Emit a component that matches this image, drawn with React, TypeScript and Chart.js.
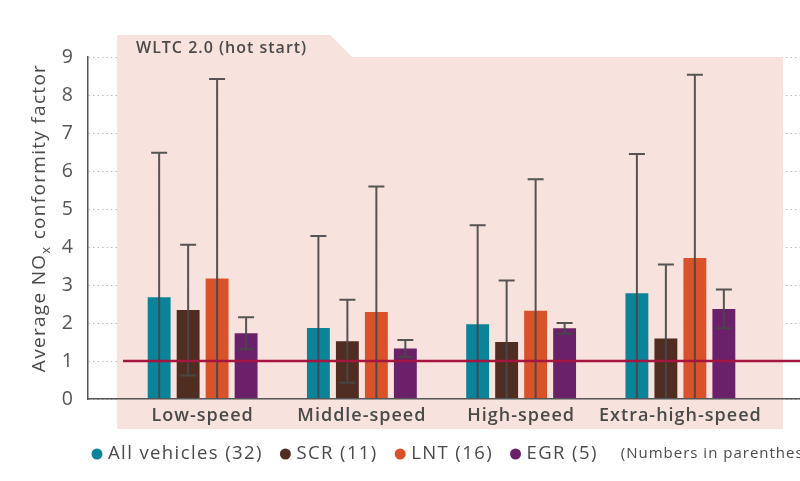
import React, { useEffect, useRef } from 'react';
import { Chart, registerables } from 'chart.js';

Chart.register(...registerables);

// ---------- data ----------
const categories = ['Low-speed', 'Middle-speed', 'High-speed', 'Extra-high-speed'];
const seriesNames = ['All vehicles (32)', 'SCR (11)', 'LNT (16)', 'EGR (5)'];
const seriesColors = ['#0b8399', '#4f2d21', '#d9522a', '#6a2169'];

const allVehicles = [2.68, 1.87, 1.97, 2.78];
const scr = [2.34, 1.52, 1.5, 1.59];
const lnt = [3.17, 2.29, 2.32, 3.71];
const egr = [1.73, 1.33, 1.86, 2.37];

const allVehiclesErr = [3.8, 2.42, 2.6, 3.67];
const scrErr = [1.72, 1.09, 1.62, 1.95];
const lntErr = [5.25, 3.3, 3.46, 4.82];
const egrErr = [0.42, 0.22, 0.14, 0.51];

const yTicks = [0, 1, 2, 3, 4, 5, 6, 7, 8, 9];
const referenceValue = 1;
const panelTitle = 'WLTC 2.0 (hot start)';
const yTitleMain = 'Average NO';
const yTitleSub = 'x';
const yTitleRest = ' conformity factor';
const noteText = '(Numbers in parentheses indicate number of vehicles tested)';

const seriesValues = [allVehicles, scr, lnt, egr];
const seriesErrors = [allVehiclesErr, scrErr, lntErr, egrErr];

const FONT = "'Open Sans', 'Noto Sans', sans-serif";
const TEXT = '#4a4a4a';

export default function App() {
  const ref = useRef<HTMLCanvasElement | null>(null);

  useEffect(() => {
    const canvas = ref.current;
    if (!canvas) return;

    const shiftX = {
      id: 'shiftX',
      afterLayout(chart: any) {
        const xs: any = chart.scales.x;
        const W = xs.right - xs.left;
        const inL = 35;
        const inR = 40;
        const n = categories.length;
        const r = (n * W) / (W - inL - inR);
        xs._valueRange = r;
        xs._startValue = -0.5 - (inL * r) / W;
      },
      beforeDraw(chart: any) {
        (chart.ctx as any).letterSpacing = '1px';
      },
    };

    const panel = {
      id: 'panel',
      beforeDatasetsDraw(chart: any) {
        const ctx = chart.ctx;
        ctx.save();
        ctx.fillStyle = 'rgba(246,223,218,0.92)';
        ctx.beginPath();
        ctx.moveTo(117, 35);
        ctx.lineTo(330, 35);
        ctx.lineTo(352, 57);
        ctx.lineTo(783, 57);
        ctx.lineTo(783, 429);
        ctx.lineTo(117, 429);
        ctx.closePath();
        ctx.fill();
        ctx.fillStyle = TEXT;
        ctx.font = `600 16px ${FONT}`;
        (ctx as any).letterSpacing = '1px';
        ctx.textBaseline = 'alphabetic';
        ctx.textAlign = 'left';
        ctx.fillText(panelTitle, 136, 52.5);
        ctx.restore();
      },
      afterDatasetsDraw(chart: any) {
        const ctx = chart.ctx;
        const ys = chart.scales.y;
        const xs = chart.scales.x;
        ctx.save();
        ctx.strokeStyle = 'rgba(72,72,72,0.92)';
        ctx.lineWidth = 2;
        seriesErrors.forEach((errs, di) => {
          const meta = chart.getDatasetMeta(di);
          meta.data.forEach((bar: any, i: number) => {
            const v = seriesValues[di][i];
            const e = errs[i];
            const hi = v + e;
            const lo = v - e;
            const x = bar.x;
            const yHi = ys.getPixelForValue(hi);
            const yLo = ys.getPixelForValue(Math.max(lo, 0));
            ctx.beginPath();
            ctx.moveTo(x, yHi);
            ctx.lineTo(x, yLo);
            ctx.moveTo(x - 8, yHi);
            ctx.lineTo(x + 8, yHi);
            if (lo > 0) {
              ctx.moveTo(x - 8, yLo);
              ctx.lineTo(x + 8, yLo);
            }
            ctx.stroke();
          });
        });
        const yr = ys.getPixelForValue(referenceValue);
        ctx.strokeStyle = '#a5153f';
        ctx.lineWidth = 2.5;
        ctx.beginPath();
        ctx.moveTo(xs.getPixelForValue(-0.5), yr);
        ctx.lineTo(chart.chartArea.right, yr);
        ctx.stroke();
        ctx.restore();
      },
      afterDraw(chart: any) {
        const ctx = chart.ctx;
        ctx.save();
        (ctx as any).letterSpacing = '1.3px';
        // y axis title
        ctx.fillStyle = TEXT;
        ctx.textBaseline = 'alphabetic';
        ctx.textAlign = 'left';
        const mainFont = `400 19px ${FONT}`;
        const subFont = `400 13px ${FONT}`;
        ctx.font = mainFont;
        const w1 = ctx.measureText(yTitleMain).width;
        const w3 = ctx.measureText(yTitleRest).width;
        ctx.font = subFont;
        const w2 = ctx.measureText(yTitleSub).width;
        const total = w1 + w2 + w3;
        ctx.translate(45, 218);
        ctx.rotate(-Math.PI / 2);
        const x0 = -total / 2;
        ctx.font = mainFont;
        ctx.fillText(yTitleMain, x0, 0);
        ctx.font = subFont;
        ctx.fillText(yTitleSub, x0 + w1, 5);
        ctx.font = mainFont;
        ctx.fillText(yTitleRest, x0 + w1 + w2, 0);
        ctx.restore();

        // legend
        ctx.save();
        (ctx as any).letterSpacing = '1.4px';
        ctx.textBaseline = 'middle';
        ctx.textAlign = 'left';
        ctx.font = `400 18.5px ${FONT}`;
        const ly = 454;
        let lx = 91.5;
        seriesNames.forEach((name, i) => {
          ctx.fillStyle = seriesColors[i];
          ctx.beginPath();
          ctx.arc(lx + 5.5, ly, 5.5, 0, Math.PI * 2);
          ctx.fill();
          lx += 16.5;
          ctx.fillStyle = TEXT;
          ctx.fillText(name, lx, ly);
          lx += ctx.measureText(name).width + 17;
        });
        lx += 6;
        (ctx as any).letterSpacing = '1px';
        ctx.font = `400 15px ${FONT}`;
        ctx.fillText(noteText, lx, ly);
        ctx.restore();
      },
    };

    const chart = new Chart(canvas, {
      type: 'bar',
      data: {
        labels: categories,
        datasets: seriesNames.map((name, i) => ({
          label: name,
          data: seriesValues[i],
          backgroundColor: seriesColors[i],
          borderWidth: 0,
          categoryPercentage: 0.728,
          barPercentage: 0.79,
        })),
      },
      options: {
        animation: false,
        responsive: false,
        maintainAspectRatio: false,
        layout: { padding: { top: 57, right: 0, bottom: 0, left: 0 } },
        plugins: {
          legend: { display: false },
          tooltip: { enabled: false },
          title: { display: false },
        },
        scales: {
          x: {
            type: 'category',
            grid: { display: false, drawTicks: false },
            border: { display: true, color: '#555555', width: 1.5, z: 1 },
            ticks: {
              z: 1,
              color: TEXT,
              font: { family: FONT, size: 18, weight: '600' },
              padding: 6,
              maxRotation: 0,
              autoSkip: false,
            },
            afterFit: (s: any) => {
              s.height = 82;
            },
          },
          y: {
            min: yTicks[0],
            max: yTicks[yTicks.length - 1],
            afterBuildTicks: (s: any) => {
              s.ticks = yTicks.map((v) => ({ value: v }));
            },
            grid: { color: '#bdbdbd', lineWidth: 1, drawTicks: false },
            border: { display: true, color: '#555555', width: 1.5, dash: [1.5, 3] },
            ticks: {
              color: '#555555',
              font: { family: FONT, size: 19.5 },
              padding: 14,
            },
            afterFit: (s: any) => {
              s.width = 88;
            },
          },
        },
      },
      plugins: [shiftX, panel],
    });

    return () => {
      chart.destroy();
    };
  }, []);

  return (
    <div style={{ position: 'fixed', left: 0, top: 0, width: 800, height: 481, background: '#ffffff' }}>
      <canvas ref={ref} width={800} height={481} style={{ width: 800, height: 481, display: 'block' }} />
    </div>
  );
}
